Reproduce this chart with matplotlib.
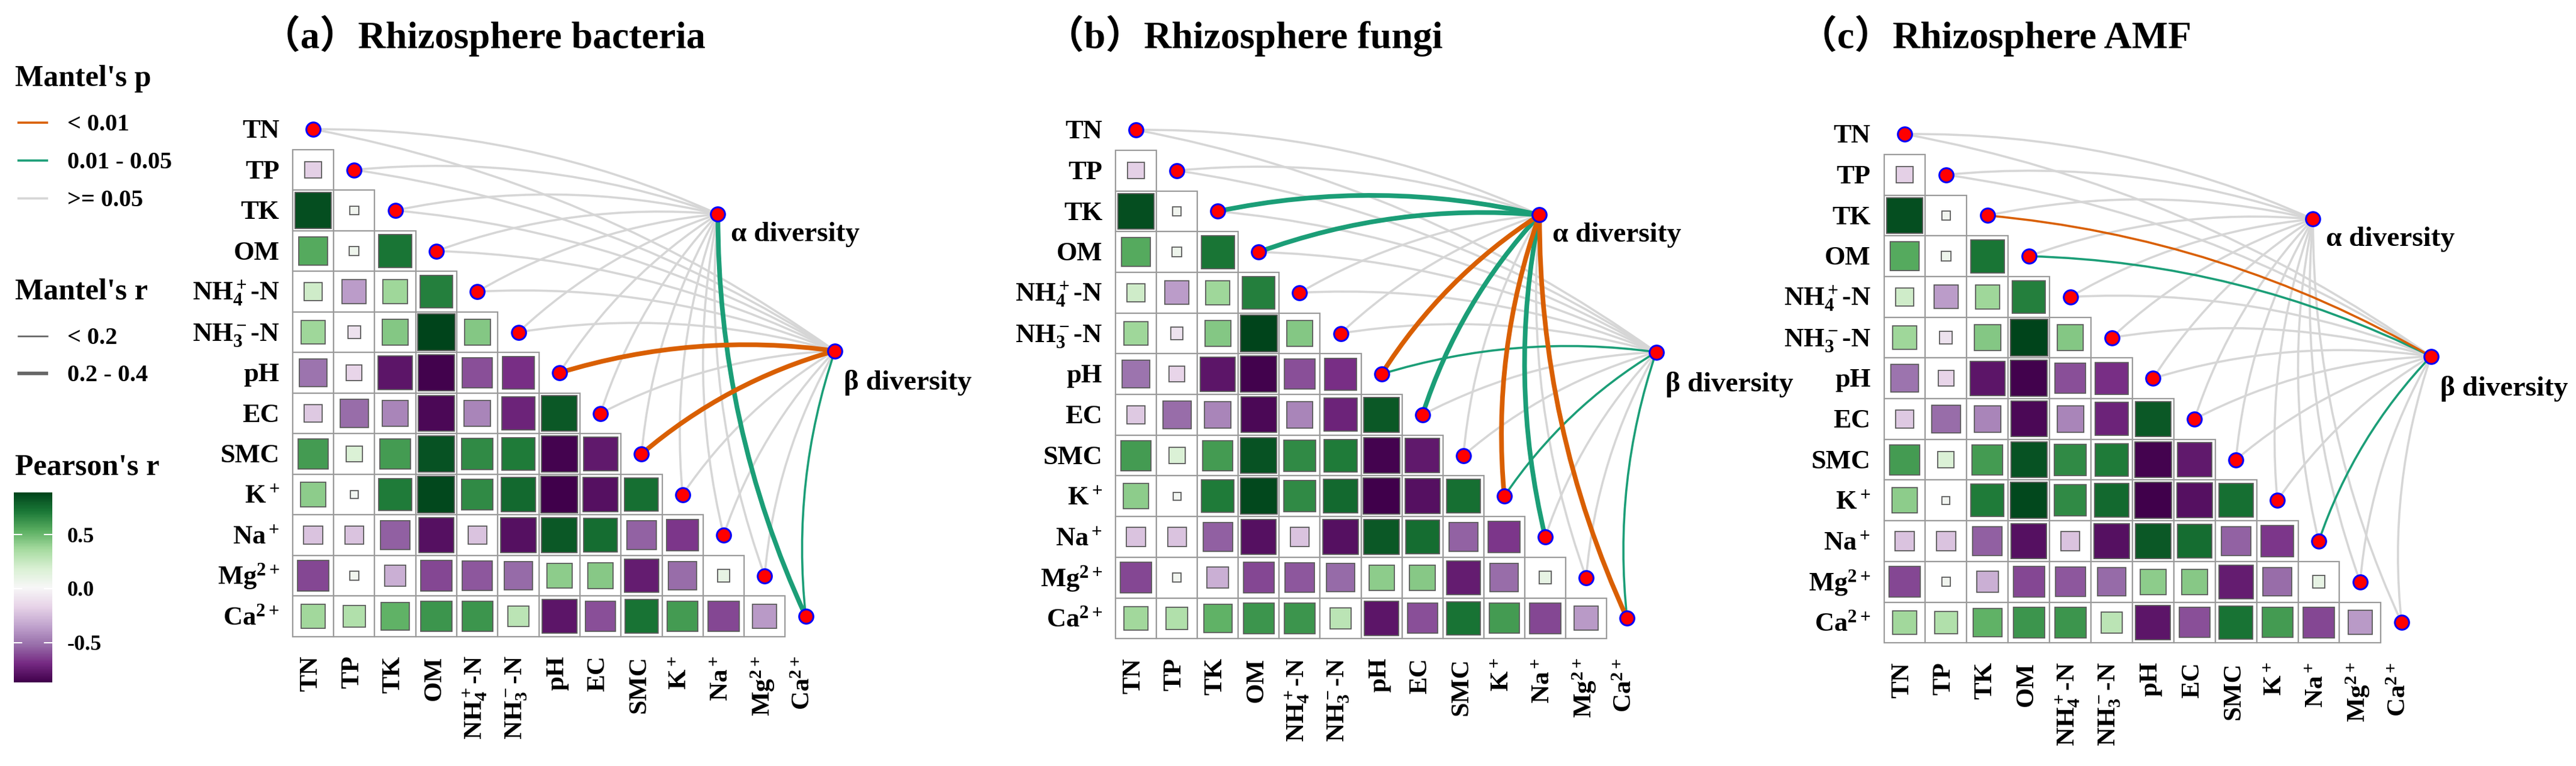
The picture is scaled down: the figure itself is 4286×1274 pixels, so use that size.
import numpy as np
import matplotlib
matplotlib.use("Agg")
import matplotlib.pyplot as plt
from matplotlib.patches import Rectangle, FancyArrowPatch
from matplotlib.colors import Normalize
from matplotlib.cm import ScalarMappable

plt.rcParams['font.family'] = ['Liberation Serif', 'Noto Sans CJK SC', 'DejaVu Sans']
plt.rcParams['font.weight'] = 'bold'
plt.rcParams['mathtext.fontset'] = 'custom'
plt.rcParams['mathtext.rm'] = 'Liberation Serif:bold'
plt.rcParams['mathtext.it'] = 'Liberation Serif:bold'
plt.rcParams['mathtext.bf'] = 'Liberation Serif:bold'

# ---- data ----
variables = ['TN', 'TP', 'TK', 'OM', 'NH$_4^+$-N', 'NH$_3^-$-N', 'pH', 'EC', 'SMC',
             'K$^+$', 'Na$^+$', 'Mg$^{2+}$', 'Ca$^{2+}$']

# lower triangle of Pearson's r (row i vs. the first i variables)
pearson_rows = [
    [],
    [-0.18],
    [0.85, 0.05],
    [0.55, 0.06, 0.72],
    [0.22, -0.37, 0.38, 0.69],
    [0.38, -0.10, 0.44, 0.89, 0.44],
    [-0.50, -0.16, -0.78, -0.86, -0.60, -0.68],
    [-0.21, -0.52, -0.45, -0.83, -0.45, -0.72, 0.82],
    [0.60, 0.17, 0.60, 0.84, 0.65, 0.70, -0.85, -0.76],
    [0.42, 0.04, 0.70, 0.87, 0.65, 0.76, -0.87, -0.80, 0.74],
    [-0.23, -0.23, -0.56, -0.80, -0.23, -0.80, 0.82, 0.75, -0.55, -0.66],
    [-0.62, 0.05, -0.30, -0.62, -0.58, -0.53, 0.42, 0.43, -0.75, -0.52, 0.10],
    [0.37, 0.32, 0.52, 0.62, 0.62, 0.29, -0.78, -0.60, 0.73, 0.60, -0.62, -0.38],
]

titles = ['（a）Rhizosphere bacteria', '（b）Rhizosphere fungi', '（c）Rhizosphere AMF']
node_names = ['α diversity', 'β diversity']

p_levels = ['< 0.01', '0.01 - 0.05', '>= 0.05']
r_levels = ['< 0.2', '0.2 - 0.4']

# Mantel test classes per variable: p class index (0,1,2) and r class index (0,1)
bact_alpha_p = [2, 2, 2, 2, 2, 2, 2, 2, 2, 2, 2, 2, 1]
bact_alpha_r = [0, 0, 0, 0, 0, 0, 0, 0, 0, 0, 0, 0, 1]
bact_beta_p = [2, 2, 2, 2, 2, 2, 0, 2, 0, 2, 2, 2, 1]
bact_beta_r = [0, 0, 0, 0, 0, 0, 1, 0, 1, 0, 0, 0, 0]

fungi_alpha_p = [2, 2, 1, 1, 2, 2, 0, 1, 2, 0, 1, 2, 0]
fungi_alpha_r = [0, 0, 1, 1, 0, 0, 1, 1, 0, 1, 1, 0, 1]
fungi_beta_p = [2, 2, 2, 2, 2, 2, 1, 2, 2, 1, 2, 2, 1]
fungi_beta_r = [0, 0, 0, 0, 0, 0, 0, 0, 0, 0, 0, 0, 0]

amf_alpha_p = [2, 2, 2, 2, 2, 2, 2, 2, 2, 2, 2, 2, 2]
amf_alpha_r = [0, 0, 0, 0, 0, 0, 0, 0, 0, 0, 0, 0, 0]
amf_beta_p = [2, 2, 0, 1, 2, 2, 2, 2, 2, 2, 1, 2, 2]
amf_beta_r = [0, 0, 0, 0, 0, 0, 0, 0, 0, 0, 0, 0, 0]

mantel = [
    [(bact_alpha_p, bact_alpha_r), (bact_beta_p, bact_beta_r)],
    [(fungi_alpha_p, fungi_alpha_r), (fungi_beta_p, fungi_beta_r)],
    [(amf_alpha_p, amf_alpha_r), (amf_beta_p, amf_beta_r)],
]

# ---- styling / layout ----
W, H = 4286, 1274
p_colors = ['#d95f02', '#1b9e77', '#d6d6d6']
r_widths = [2.6, 5.6]
cmap = plt.get_cmap('PRGn')
all_r = [v for row in pearson_rows for v in row]
norm = Normalize(vmin=min(all_r), vmax=max(all_r))

# pixel position of the TN point and the cell size for each panel
panel_origin = [(521, 215), (1890, 216), (3169, 223)]
panel_cell = [(68.3, 67.5), (68.1, 67.7), (68.9, 67.7)]
title_x = [-1.25, -2.2, -2.55]
title_baseline_px = 80
node_pos = [(9.86, 2.09), (12.71, 5.46)]
node_label_off = [(0.32, 0.66), (0.22, 0.96)]

fig = plt.figure(figsize=(W / 100, H / 100), dpi=100)
n = len(variables)

for k in range(3):
    x0, y0 = panel_origin[k]
    cw, ch = panel_cell[k]
    left = (x0 - cw) / W
    top = y0 - ch
    ax = fig.add_axes([left, (H - top - 14 * ch) / H, 15 * cw / W, 14 * ch / H])
    ax.set_xlim(-1, 14)
    ax.set_ylim(13, -1)
    ax.axis('off')
    ax.patch.set_alpha(0)

    # correlation cells
    for i in range(n):
        for j, r in enumerate(pearson_rows[i]):
            ax.add_patch(Rectangle((j - 0.5, i - 0.5), 1, 1, facecolor='white',
                                   edgecolor='#9a9a9a', lw=1.6, zorder=1))
            s = 0.955 * np.sqrt(abs(r))
            ax.add_patch(Rectangle((j - s / 2, i - s / 2), s, s, facecolor=cmap(norm(r)),
                                   edgecolor='#5a5a5a', lw=1.3, zorder=2))

    # mantel links: grey first, significant on top
    for order in [2, 1, 0]:
        for m, (pcls, rcls) in enumerate(mantel[k]):
            nx, ny = node_pos[m]
            for v in range(n):
                if pcls[v] != order:
                    continue
                arc = FancyArrowPatch((nx, ny), (v, v), connectionstyle='arc3,rad=0.11',
                                      arrowstyle='-', shrinkA=0, shrinkB=0,
                                      color=p_colors[pcls[v]], lw=r_widths[rcls[v]],
                                      zorder=3 if order == 2 else 4, clip_on=False)
                ax.add_patch(arc)

    # points on the diagonal and the community nodes
    diag = np.arange(n)
    ax.plot(diag, diag, 'o', ms=17, mfc='#ff0000', mec='#0000ff', mew=2.2,
            ls='none', zorder=6, clip_on=False)
    ax.plot([p[0] for p in node_pos], [p[1] for p in node_pos], 'o', ms=17,
            mfc='#ff0000', mec='#0000ff', mew=2.2, ls='none', zorder=6, clip_on=False)
    for m, name in enumerate(node_names):
        ax.text(node_pos[m][0] + node_label_off[m][0], node_pos[m][1] + node_label_off[m][1],
                name, fontsize=34, ha='left', va='baseline')

    # labels
    for i, lab in enumerate(variables):
        ax.text(-0.82, i + 0.21, lab, fontsize=32, ha='right', va='baseline')
        ax.text(i - 0.05, 12.97, lab, fontsize=31, ha='center', va='top', rotation=90)

    ax.text(title_x[k], (title_baseline_px - y0) / ch, titles[k], fontsize=46,
            ha='left', va='baseline')

# ---- legends ----
lg = fig.add_axes([0, 0, 1, 1])
lg.set_xlim(0, W)
lg.set_ylim(H, 0)
lg.axis('off')
lg.patch.set_alpha(0)

lg.text(25, 143, "Mantel's p", fontsize=36, ha='left', va='baseline')
for idx, (lab, yb) in enumerate(zip(p_levels, [217, 280, 343])):
    lg.plot([29, 80], [yb - 13, yb - 13], color=p_colors[idx], lw=2.6, solid_capstyle='butt')
    lg.text(112, yb, lab, fontsize=29, ha='left', va='baseline')

lg.text(25, 498, "Mantel's r", fontsize=36, ha='left', va='baseline')
for idx, (lab, yb) in enumerate(zip(r_levels, [572, 634])):
    lg.plot([29, 80], [yb - 13, yb - 13], color='#666666', lw=r_widths[idx] * 0.75,
            solid_capstyle='butt')
    lg.text(112, yb, lab, fontsize=29, ha='left', va='baseline')

lg.text(25, 790, "Pearson's r", fontsize=36, ha='left', va='baseline')

cax = fig.add_axes([23 / W, (H - 1135) / H, 64 / W, 316 / H])
cb = fig.colorbar(ScalarMappable(norm=norm, cmap=cmap), cax=cax)
cb.outline.set_visible(False)
cb.set_ticks([-0.5, 0.0, 0.5])
cb.set_ticklabels(['-0.5', '0.0', '0.5'])
cax.tick_params(length=0, pad=18, labelsize=26)
for t in [-0.5, 0.0, 0.5]:
    cax.axhline(t, xmin=0, xmax=0.2, color='white', lw=1.5)
    cax.axhline(t, xmin=0.8, xmax=1, color='white', lw=1.5)

fig.savefig('out.png', dpi=100)
